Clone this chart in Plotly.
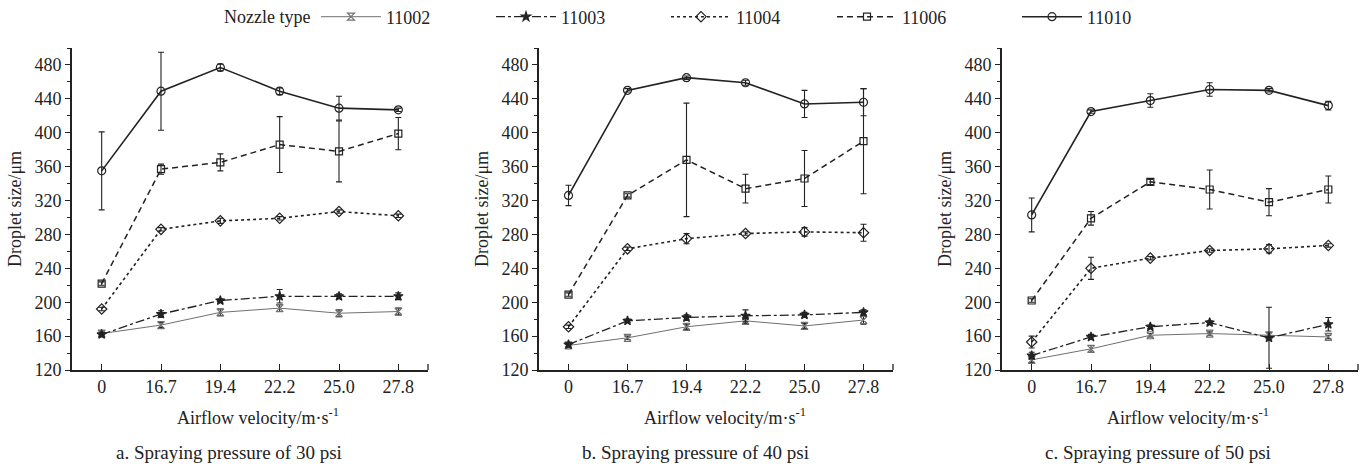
import plotly.graph_objects as go

# ---------------- data ----------------
categories = ["0", "16.7", "19.4", "22.2", "25.0", "27.8"]
nozzles = ["11002", "11003", "11004", "11006", "11010"]
panel_labels = ["a. Spraying pressure of 30 psi",
                "b. Spraying pressure of 40 psi",
                "c. Spraying pressure of 50 psi"]

# 30 psi
p30_11002 = [163, 173, 188, 193, 187, 189]
p30_11002_err = [2, 3, 4, 4, 4, 4]
p30_11003 = [162, 186, 202, 207, 207, 207]
p30_11003_err = [2, 4, 2, 8, 3, 4]
p30_11004 = [192, 286, 296, 299, 307, 302]
p30_11004_err = [2, 2, 3, 2, 2, 2]
p30_11006 = [222, 357, 365, 386, 378, 399]
p30_11006_err = [2, 6, 10, 33, 36, 19]
p30_11010 = [355, 449, 477, 449, 429, 427]
p30_11010_err = [46, 46, 4, 4, 14, 2]

# 40 psi
p40_11002 = [149, 158, 171, 178, 172, 179]
p40_11002_err = [2, 2, 3, 3, 3, 5]
p40_11003 = [150, 178, 182, 184, 185, 188]
p40_11003_err = [2, 2, 3, 7, 3, 3]
p40_11004 = [171, 263, 275, 281, 283, 282]
p40_11004_err = [2, 2, 6, 2, 5, 10]
p40_11006 = [209, 326, 368, 334, 346, 390]
p40_11006_err = [2, 2, 67, 17, 33, 62]
p40_11010 = [326, 450, 465, 459, 434, 436]
p40_11010_err = [12, 2, 2, 3, 16, 16]

# 50 psi
p50_11002 = [132, 145, 161, 163, 161, 159]
p50_11002_err = [3, 4, 2, 2, 3, 2]
p50_11003 = [137, 159, 171, 176, 158, 174]
p50_11003_err = [4, 3, 2, 2, 36, 8]
p50_11004 = [153, 240, 252, 261, 263, 267]
p50_11004_err = [7, 13, 2, 2, 5, 2]
p50_11006 = [202, 299, 342, 333, 318, 333]
p50_11006_err = [2, 8, 3, 23, 16, 16]
p50_11010 = [303, 425, 438, 451, 450, 432]
p50_11010_err = [20, 2, 8, 8, 2, 5]

y_ticks = [120, 160, 200, 240, 280, 320, 360, 400, 440, 480]

panels = [
    [(p30_11002, p30_11002_err), (p30_11003, p30_11003_err), (p30_11004, p30_11004_err),
     (p30_11006, p30_11006_err), (p30_11010, p30_11010_err)],
    [(p40_11002, p40_11002_err), (p40_11003, p40_11003_err), (p40_11004, p40_11004_err),
     (p40_11006, p40_11006_err), (p40_11010, p40_11010_err)],
    [(p50_11002, p50_11002_err), (p50_11003, p50_11003_err), (p50_11004, p50_11004_err),
     (p50_11006, p50_11006_err), (p50_11010, p50_11010_err)],
]

# ---------------- styles ----------------
styles = {
    "11002": dict(dash="solid", width=1.0, color="#707070", symbol="hourglass-open", msize=7),
    "11003": dict(dash="dashdot", width=1.3, color="#222222", symbol="star", msize=7),
    "11004": dict(dash="dot", width=1.6, color="#222222", symbol="diamond-open", msize=8),
    "11006": dict(dash="6px,4px", width=1.5, color="#222222", symbol="square-open", msize=7),
    "11010": dict(dash="solid", width=1.6, color="#222222", symbol="circle-open", msize=8),
}
legend_line_start = {"11002": 322, "11003": 497, "11004": 672, "11006": 838, "11010": 1023}

W, H = 1370, 467
FONT = "Liberation Serif"
x_px = [(72, 428), (539, 893), (1002, 1358)]
xtitle_cx = [258, 725, 1188]
label_cx = [229, 695, 1158]
y_top, y_bot = 48, 370

fig = go.Figure()

legend_ids = ["legend", "legend2", "legend3", "legend4", "legend5"]

for pi, series in enumerate(panels):
    xa = "x" if pi == 0 else f"x{pi+1}"
    ya = "y" if pi == 0 else f"y{pi+1}"
    for li, (name, (vals, errs)) in enumerate(zip(nozzles, series)):
        s = styles[name]
        fig.add_trace(go.Scatter(
            x=categories, y=vals, name=name, xaxis=xa, yaxis=ya,
            mode="lines+markers",
            line=dict(color=s["color"], width=s["width"], dash=s["dash"]),
            marker=dict(symbol=s["symbol"], size=s["msize"], color=s["color"],
                        line=dict(color=s["color"], width=1.2)),
            error_y=dict(type="data", array=errs, visible=True, color="#222222",
                         thickness=1.1, width=3),
            showlegend=(pi == 0),
            legend=legend_ids[li],
        ))

layout = dict(
    width=W, height=H,
    margin=dict(l=0, r=0, t=0, b=0, autoexpand=False),
    paper_bgcolor="white", plot_bgcolor="white",
    font=dict(family=FONT, size=18, color="#222222"),
    showlegend=True,
)
for li, name in enumerate(nozzles):
    layout[legend_ids[li]] = dict(
        orientation="h", xref="container", yref="container",
        x=(legend_line_start[name] - 6) / W, xanchor="left",
        y=1 - 17 / H, yanchor="middle",
        font=dict(size=18, family=FONT), itemwidth=60,
        bgcolor="rgba(0,0,0,0)", borderwidth=0)

annotations = []
shapes = []
annotations.append(dict(text="Nozzle type", showarrow=False, xref="paper", yref="paper",
                        x=222 / W, y=1 - 17 / H, xanchor="left", yanchor="middle",
                        font=dict(size=18)))
for pi in range(3):
    sfx = "" if pi == 0 else str(pi + 1)
    x0, x1 = x_px[pi]
    layout["xaxis" + sfx] = dict(
        domain=[x0 / W, x1 / W], anchor="y" + sfx, automargin=False,
        type="category", categoryorder="array", categoryarray=categories,
        range=[-0.5, 5.5], showline=True, linecolor="#222222", linewidth=1.6,
        ticks="inside", ticklen=6, tickwidth=1.3, tickcolor="#222222",
        showgrid=False, zeroline=False, tickfont=dict(size=18),
    )
    layout["yaxis" + sfx] = dict(
        domain=[1 - y_bot / H, 1 - y_top / H], anchor="x" + sfx, automargin=False,
        range=[120, 500], tickmode="array", tickvals=y_ticks,
        showline=True, linecolor="#222222", linewidth=1.6,
        ticks="outside", ticklen=5, tickwidth=1.3, tickcolor="#222222",
        minor=dict(dtick=20, tick0=120, ticks="outside", ticklen=3, tickwidth=1, tickcolor="#222222"),
        showgrid=False, zeroline=False, tickfont=dict(size=18),
    )
    annotations.append(dict(text="Droplet size/μm", textangle=-90, showarrow=False,
                            xref="paper", yref="paper", x=(x0 - 57) / W,
                            y=1 - (y_top + y_bot) / 2 / H, xanchor="center", yanchor="middle",
                            font=dict(size=18)))
    annotations.append(dict(text="Airflow velocity/m·s<sup>-1</sup>", showarrow=False,
                            xref="paper", yref="paper", x=xtitle_cx[pi] / W, y=1 - 416 / H,
                            xanchor="center", yanchor="middle", font=dict(size=18)))
    annotations.append(dict(text=panel_labels[pi], showarrow=False,
                            xref="paper", yref="paper", x=label_cx[pi] / W, y=1 - 452 / H,
                            xanchor="center", yanchor="middle", font=dict(size=19)))
    shapes.append(dict(type="line", xref="x" + sfx + " domain", yref="paper",
                       x0=1, x1=1, y0=1 - y_bot / H, y1=1 - (y_bot - 6) / H,
                       line=dict(color="#222222", width=1.3)))

layout["annotations"] = annotations
layout["shapes"] = shapes
fig.update_layout(**layout)

fig.write_html("out.html")
